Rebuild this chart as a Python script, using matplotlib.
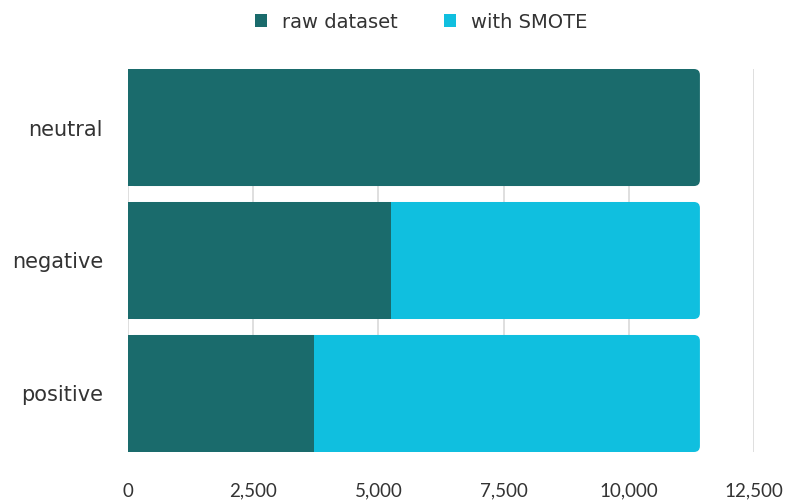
import matplotlib
matplotlib.use("Agg")
import matplotlib.pyplot as plt
from matplotlib.patches import FancyBboxPatch, Patch

categories = ["neutral", "negative", "positive"]
raw_counts = [11420, 5245, 3715]
smote_added = [0, 6175, 7705]
x_ticks = [0, 2500, 5000, 7500, 10000, 12500]
x_tick_labels = ["0", "2,500", "5,000", "7,500", "10,000", "12,500"]
series_names = ["raw dataset", "with SMOTE"]

RAW_COLOR = "#1a6b6c"
SMOTE_COLOR = "#10bfdf"
TEXT_COLOR = "#333333"
NUM_FONT = "Lato"
TEXT_FONT = "DejaVu Sans"

fig = plt.figure(figsize=(7.9, 5.01), dpi=100)
ax_left, ax_right, ax_top, ax_bottom = 128, 754, 69, 452
ax = fig.add_axes([ax_left / 790, 1 - ax_bottom / 501,
                   (ax_right - ax_left) / 790, (ax_bottom - ax_top) / 501])

bar_h = 0.88
ax.set_xlim(0, 12500)
ax.set_ylim(2 + bar_h / 2, -bar_h / 2)

# radius of the rounded outer end, expressed in data units on each axis
rx = 6 * 12500 / (ax_right - ax_left)
ry = 6 * (2 + bar_h) / (ax_bottom - ax_top)

for i, cat in enumerate(categories):
    total = raw_counts[i] + smote_added[i]
    outer_color = SMOTE_COLOR if smote_added[i] > 0 else RAW_COLOR
    y0 = i - bar_h / 2
    # rounded end cap
    cap = FancyBboxPatch((0, y0), total, bar_h,
                         boxstyle=f"round,pad=0,rounding_size={rx}",
                         mutation_aspect=ry / rx,
                         facecolor=outer_color, edgecolor="none", zorder=2)
    ax.add_patch(cap)
    # square body of the outer segment (hides the left rounded corners)
    ax.barh(i, total - rx, height=bar_h, color=outer_color, zorder=2.1)
    # raw dataset segment
    if smote_added[i] > 0:
        ax.barh(i, raw_counts[i], height=bar_h, color=RAW_COLOR, zorder=2.2)

ax.set_xticks(x_ticks)
ax.set_xticklabels(x_tick_labels)
ax.set_yticks(range(len(categories)))
ax.set_yticklabels(categories)
ax.grid(axis="x", color="#d9d9d9", linewidth=1.2, zorder=0)
ax.set_axisbelow(True)
for s in ax.spines.values():
    s.set_visible(False)
ax.tick_params(axis="x", length=0, pad=22, labelsize=13.5, labelcolor=TEXT_COLOR)
ax.tick_params(axis="y", length=0, pad=18, labelsize=15, labelcolor=TEXT_COLOR)
for lbl in ax.get_xticklabels():
    lbl.set_fontfamily(NUM_FONT)
for lbl in ax.get_yticklabels():
    lbl.set_fontfamily(TEXT_FONT)

handles = [Patch(facecolor=RAW_COLOR, label=series_names[0]),
           Patch(facecolor=SMOTE_COLOR, label=series_names[1])]
fig.legend(handles=handles, loc="center", bbox_to_anchor=(421 / 790, 1 - 22 / 501),
           ncol=2, frameon=False, handlelength=0.62, handleheight=0.62,
           handletextpad=0.77, columnspacing=2.4,
           prop={"family": TEXT_FONT, "size": 14}, labelcolor=TEXT_COLOR)

fig.savefig("out.png", dpi=100)
